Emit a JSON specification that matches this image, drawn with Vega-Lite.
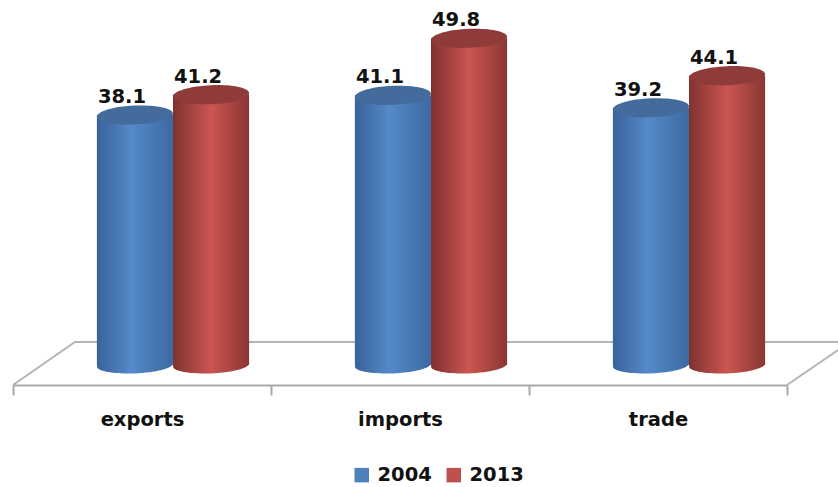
{"$schema":"https://vega.github.io/schema/vega-lite/v6.json","width":774,"height":385,"autosize":"none","padding":{"left":13,"top":0,"right":51,"bottom":102},"background":"white","config":{"view":{"stroke":null}},"datasets":{"bars":[{"cat":"exports","year":"2004","v":38.1},{"cat":"exports","year":"2013","v":41.2},{"cat":"imports","year":"2004","v":41.1},{"cat":"imports","year":"2013","v":49.8},{"cat":"trade","year":"2004","v":39.2},{"cat":"trade","year":"2013","v":44.1}],"floor":[{"g":"a","o":1,"fx":0,"fy":-3.05},{"g":"a","o":2,"fx":0.24,"fy":3.5},{"g":"a","o":3,"fx":3.198,"fy":3.5},{"g":"b","o":1,"fx":3,"fy":-3.05},{"g":"b","o":2,"fx":3.198,"fy":2.29}]},"data":{"name":"bars"},"resolve":{"scale":{"x":"independent","xOffset":"independent"}},"layer":[{"data":{"name":"floor"},"mark":{"type":"line","color":"#b4b4b4","strokeWidth":2,"clip":false},"encoding":{"x":{"field":"fx","type":"quantitative","axis":null,"scale":{"domain":[0,3],"range":[0,774],"nice":false,"zero":false}},"y":{"field":"fy","type":"quantitative","axis":null,"scale":{"domain":[-3.05,55.64],"nice":false,"zero":false}},"detail":{"field":"g"},"order":{"field":"o"}}},{"mark":{"type":"tick","opacity":0},"encoding":{"x":{"field":"cat","type":"nominal","title":null,"scale":{"range":[0,774],"paddingInner":0,"paddingOuter":0},"axis":{"tickBand":"extent","domainColor":"#a8a8a8","domainWidth":2,"tickColor":"#a8a8a8","tickWidth":2,"tickSize":10,"labelAngle":0,"labelFont":"DejaVu Sans","labelFontWeight":"bold","labelFontSize":19.5,"labelColor":"#111111","labelPadding":15,"labelBaseline":"top"}},"y":{"field":"v","type":"quantitative","axis":null}}},{"mark":{"type":"point","filled":true,"opacity":0},"encoding":{"x":{"field":"cat","type":"nominal","axis":null,"scale":{"range":[31,805],"paddingInner":0.41,"paddingOuter":0.205}},"xOffset":{"field":"year"},"y":{"field":"v","type":"quantitative","axis":null},"color":{"field":"year","type":"nominal","scale":{"domain":["2004","2013"],"range":["#4f81bd","#c0504d"]},"legend":{"orient":"none","legendX":339,"legendY":465,"direction":"horizontal","columns":2,"title":null,"symbolType":"square","symbolSize":210,"symbolOpacity":1,"symbolStrokeWidth":0,"labelFont":"DejaVu Sans","labelFontWeight":"bold","labelFontSize":19.5,"labelColor":"#111111","labelOffset":6,"columnPadding":12}}}},{"transform":[{"filter":"datum.year=='2004'"}],"layer":[{"mark":{"type":"bar","color":{"gradient":"linear","x1":0,"x2":1,"y1":0,"y2":0,"stops":[{"offset":0,"color":"#39629a"},{"offset":0.45,"color":"#5589c9"},{"offset":1,"color":"#3c6aa2"}]}},"encoding":{"y":{"field":"v","type":"quantitative","axis":null}}},{"mark":{"type":"point","filled":true,"opacity":1,"size":5776,"shape":"M-1,0.04 A1,0.22 -2.5 1,1 1,-0.04 A1,0.22 -2.5 1,1 -1,0.04 Z","color":{"gradient":"linear","x1":0,"x2":1,"y1":0,"y2":0,"stops":[{"offset":0,"color":"#39629a"},{"offset":0.45,"color":"#5589c9"},{"offset":1,"color":"#3c6aa2"}]}},"encoding":{"y":{"datum":0,"type":"quantitative","axis":null}}},{"mark":{"type":"point","filled":true,"opacity":1,"size":5776,"shape":"M-1,0.04 A1,0.25 -2.5 1,1 1,-0.04 A1,0.25 -2.5 1,1 -1,0.04 Z","color":"#436b9c"},"encoding":{"y":{"field":"v","type":"quantitative","axis":null}}}],"encoding":{"x":{"field":"cat","type":"nominal","axis":null,"scale":{"range":[31,805],"paddingInner":0.41,"paddingOuter":0.205}},"xOffset":{"field":"year","scale":{"domain":["2004","2013"]}}}},{"transform":[{"filter":"datum.year=='2013'"}],"layer":[{"mark":{"type":"bar","color":{"gradient":"linear","x1":0,"x2":1,"y1":0,"y2":0,"stops":[{"offset":0,"color":"#7f3230"},{"offset":0.5,"color":"#cc5551"},{"offset":1,"color":"#8a3633"}]}},"encoding":{"y":{"field":"v","type":"quantitative","axis":null}}},{"mark":{"type":"point","filled":true,"opacity":1,"size":5776,"shape":"M-1,0.04 A1,0.22 -2.5 1,1 1,-0.04 A1,0.22 -2.5 1,1 -1,0.04 Z","color":{"gradient":"linear","x1":0,"x2":1,"y1":0,"y2":0,"stops":[{"offset":0,"color":"#7f3230"},{"offset":0.5,"color":"#cc5551"},{"offset":1,"color":"#8a3633"}]}},"encoding":{"y":{"datum":0,"type":"quantitative","axis":null}}},{"mark":{"type":"point","filled":true,"opacity":1,"size":5776,"shape":"M-1,0.04 A1,0.25 -2.5 1,1 1,-0.04 A1,0.25 -2.5 1,1 -1,0.04 Z","color":"#8e3b39"},"encoding":{"y":{"field":"v","type":"quantitative","axis":null}}}],"encoding":{"x":{"field":"cat","type":"nominal","axis":null,"scale":{"range":[31,805],"paddingInner":0.41,"paddingOuter":0.205}},"xOffset":{"field":"year","scale":{"domain":["2004","2013"]}}}},{"mark":{"type":"text","font":"DejaVu Sans","fontWeight":"bold","fontSize":19.5,"color":"#111111","dx":-13,"dy":-18},"encoding":{"x":{"field":"cat","type":"nominal","axis":null,"scale":{"range":[31,805],"paddingInner":0.41,"paddingOuter":0.205}},"xOffset":{"field":"year"},"y":{"field":"v","type":"quantitative","axis":null},"text":{"field":"v","type":"quantitative","format":".1f"}}}]}
